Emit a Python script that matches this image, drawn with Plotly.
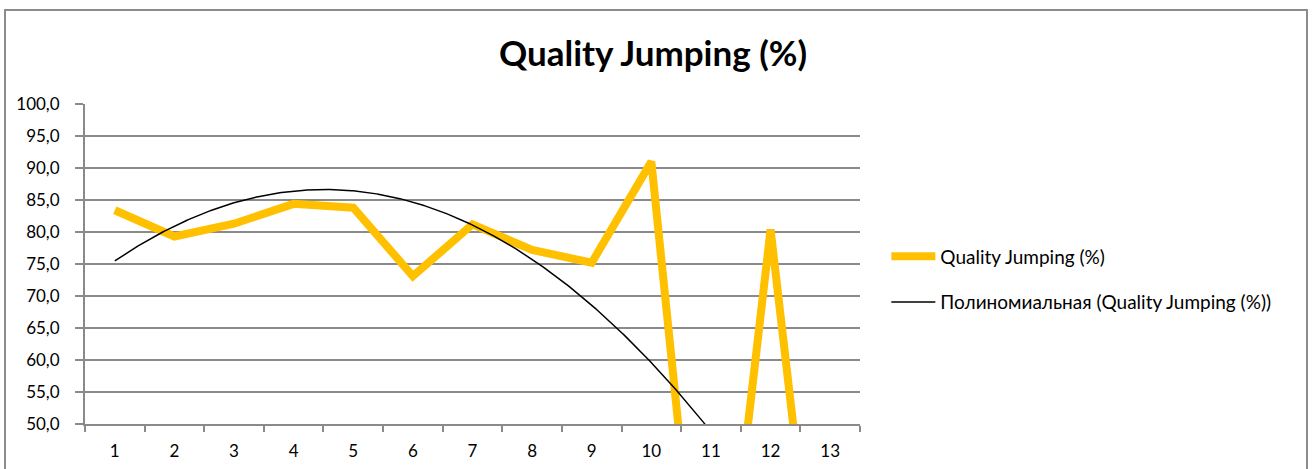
import numpy as np
import plotly.graph_objects as go

# Monthly quality jumping share, %
categories = [1, 2, 3, 4, 5, 6, 7, 8, 9, 10, 11, 12, 13]
quality = [83.4, 79.3, 81.3, 84.4, 83.8, 73.1, 81.2, 77.2, 75.2, 91.0, 0.0, 80.4, 0.0]
y_ticks = [50, 55, 60, 65, 70, 75, 80, 85, 90, 95, 100]

series_name = "Quality Jumping (%)"
trend_name = "Полиномиальная (Quality Jumping (%))"

FONT = "Lato, 'Open Sans', sans-serif"
GRID = "#8a8a8a"
GOLD = "#FFC000"

# Second-order polynomial trend fitted to the series
coef = np.polyfit(categories, quality, 2)
xs = np.linspace(categories[0], categories[-1], 400)
ys = np.polyval(coef, xs)

fig = go.Figure()
fig.add_trace(go.Scatter(
    x=categories, y=quality, mode="lines", name=series_name,
    line=dict(color=GOLD, width=8), legendgroup="a",
))
fig.add_trace(go.Scatter(
    x=xs, y=ys, mode="lines", name=trend_name,
    line=dict(color="black", width=1.5), legendgroup="b",
))

fig.update_layout(
    template="none",
    width=1316, height=469,
    margin=dict(l=85, r=456, t=104, b=45, autoexpand=False),
    paper_bgcolor="white", plot_bgcolor="white",
    separators=", ",
    font=dict(family=FONT, color="black", size=17),
    title=dict(
        text="<b>Quality Jumping (%)</b>",
        font=dict(family=FONT, size=35, color="black"),
        x=653 / 1316, xanchor="center",
        y=1 - 54 / 469, yanchor="middle",
    ),
    showlegend=True,
    legend=dict(
        x=1.034, xanchor="left", y=0.452, yanchor="middle",
        font=dict(family=FONT, size=19, color="black"),
        itemwidth=44,
        tracegroupgap=18, bgcolor="rgba(0,0,0,0)",
    ),
    xaxis=dict(
        range=[0.5, 13.5], tickmode="array", tickvals=categories,
        ticktext=[str(c) for c in categories],
        ticks="", showgrid=False, zeroline=False, automargin=False,
        showline=True, linecolor=GRID, linewidth=2,
        ticklabelstandoff=11,
        minor=dict(tick0=0.5, dtick=1, ticks="outside", ticklen=6,
                   tickcolor=GRID, tickwidth=2, showgrid=False),
    ),
    yaxis=dict(
        range=[50, 100], tickmode="array", tickvals=y_ticks,
        tickformat=".1f", ticks="outside", ticklen=8,
        tickcolor=GRID, tickwidth=2, automargin=False,
        showgrid=True, gridcolor=GRID, gridwidth=2, zeroline=False,
        showline=True, linecolor=GRID, linewidth=2,
        ticklabelstandoff=12,
    ),
    shapes=[dict(
        type="rect", xref="paper", yref="paper",
        x0=(5 - 85) / 775, x1=(1307 - 85) / 775,
        y0=-0.3, y1=(424 - 10) / 320,
        line=dict(color="#8c8c8c", width=2), layer="below",
    )],
)

fig.write_html("out.html")
